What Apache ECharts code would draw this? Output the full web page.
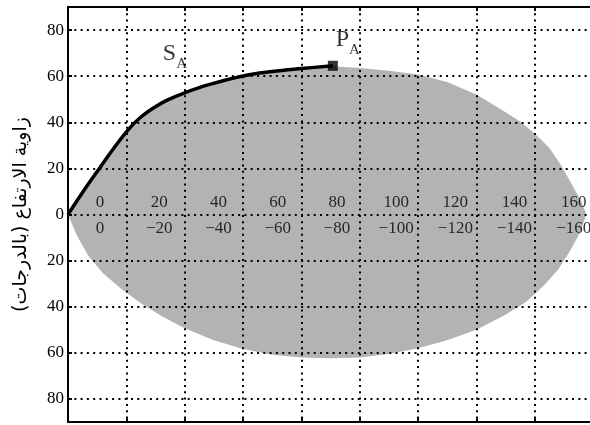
<!DOCTYPE html>
<html>
<head>
<meta charset="utf-8">
<script src="https://cdn.jsdelivr.net/npm/echarts@6.0.0/dist/echarts.min.js"></script>
<style>
  html, body { margin: 0; padding: 0; background: #fff; }
  #chart { width: 590px; height: 425px; }
</style>
</head>
<body>
<div id="chart"></div>
<script>
// Sun path from sunrise (azimuth 0) up to solar noon P_A
const sunPathAz  = [0, 5.5, 11, 16, 21.2, 25, 29, 34, 40, 48, 60, 70, 80, 90.8];
const sunPathAlt = [0, 10.5, 20.4, 29.3, 37.6, 42.3, 46, 49.6, 52.8, 56.2, 60.1, 62, 63.3, 64.5];

// Upper edge of the shaded region after noon
const envTopAz  = [92, 100, 110, 120, 130, 140, 148, 155, 160, 165, 169, 173, 176, 177.7];
const envTopAlt = [64.2, 63.5, 62.4, 60.7, 57.5, 52, 46, 40.3, 35.1, 29, 21.5, 12.5, 5.5, 0];

// Lower edge of the shaded region
const envBottomAz  = [0, 3, 7, 12, 18, 25, 32, 40, 50, 60, 70, 80, 90, 100, 110, 120, 130, 140, 150, 157, 163, 168, 172, 175.5, 177.7];
const envBottomAlt = [0, -9, -18, -25.5, -32, -38.5, -44, -49.3, -54.5, -58.3, -60.8, -62, -62.4, -62, -60.5, -58, -54.5, -50, -43.5, -38, -31, -24, -16, -8, 0];

// Azimuth scale labels written along the horizon line
const azimuthLabels = [0, 20, 40, 60, 80, 100, 120, 140, 160];
const altitudeTicks = [-80, -60, -40, -20, 0, 20, 40, 60, 80];

const noonPoint = [90.8, 64.5];

const serif = '"Liberation Serif", "Times New Roman", serif';

// where each azimuth label sits along the horizon
const labelX = v => v * 1.015 + 11;

// Closed outline of the shaded region
const envelope = [];
sunPathAz.forEach((a, i) => envelope.push([a, sunPathAlt[i]]));
envTopAz.forEach((a, i) => envelope.push([a, envTopAlt[i]]));
for (let i = envBottomAz.length - 1; i >= 0; i--) envelope.push([envBottomAz[i], envBottomAlt[i]]);

const gridDots = { color: '#000', width: 2, type: [2, 4.3] };

const chart = echarts.init(document.getElementById('chart'), null, { renderer: 'canvas' });
chart.setOption({
  animation: false,
  backgroundColor: '#fff',
  grid: { left: 68, top: 7, width: 525, height: 415, containLabel: false, outerBoundsMode: 'none' },
  xAxis: [
    {
      type: 'value', min: 0, max: 180, interval: 20, position: 'bottom', z: 5,
      axisLine: { onZero: false, lineStyle: { color: '#000', width: 2 } },
      axisTick: { inside: true, length: 4, lineStyle: { color: '#000', width: 2 } },
      axisLabel: { show: false },
      splitLine: { show: true, lineStyle: gridDots }
    },
    {
      type: 'value', min: 0, max: 180, interval: 20, position: 'top', z: 5,
      axisLine: { onZero: false, lineStyle: { color: '#000', width: 2 } },
      axisTick: { inside: true, length: 4, lineStyle: { color: '#000', width: 2 } },
      axisLabel: { show: false },
      splitLine: { show: false }
    }
  ],
  yAxis: {
    type: 'value', min: -90, max: 90, z: 5,
    name: 'زاوية الارتفاع (بالدرجات)',
    nameLocation: 'middle',
    nameGap: 37,
    nameTextStyle: { fontFamily: '"DejaVu Sans", sans-serif', fontSize: 19, color: '#000' },
    axisLine: { onZero: false, lineStyle: { color: '#000', width: 2 } },
    axisTick: { show: true, inside: true, length: 4, customValues: altitudeTicks, lineStyle: { color: '#000', width: 2 } },
    axisLabel: {
      customValues: altitudeTicks,
      margin: 4, color: '#000', fontFamily: serif, fontSize: 17,
      formatter: v => String(Math.abs(v))
    },
    splitLine: { show: true, lineStyle: gridDots }
  },
  series: [
    {
      type: 'custom',
      z: 1,
      silent: true,
      data: envelope,
      renderItem: (params, api) => {
        if (params.dataIndex !== 0) return null;
        return {
          type: 'polygon',
          shape: { points: envelope.map(p => api.coord(p)) },
          style: { fill: '#b3b3b3' }
        };
      }
    },
    {
      type: 'line',
      z: 6,
      data: sunPathAz.map((a, i) => [a, sunPathAlt[i]]),
      smooth: 0.4,
      showSymbol: false,
      lineStyle: { color: '#000', width: 3.5 }
    },
    {
      type: 'scatter',
      z: 7,
      symbol: 'rect',
      symbolSize: 10,
      itemStyle: { color: '#000' },
      data: [noonPoint]
    },
    {
      type: 'scatter',
      z: 7,
      symbolSize: 0,
      silent: true,
      data: azimuthLabels.map(v => ({ value: [labelX(v), 0], name: String(v) })),
      label: {
        show: true, position: 'top', distance: 3,
        color: '#000', fontFamily: serif, fontSize: 17,
        formatter: p => p.name
      }
    },
    {
      type: 'scatter',
      z: 7,
      symbolSize: 0,
      silent: true,
      data: azimuthLabels.map(v => ({ value: [labelX(v), 0], name: v === 0 ? '0' : '\u2212' + v })),
      label: {
        show: true, position: 'bottom', distance: 6,
        color: '#000', fontFamily: serif, fontSize: 17,
        formatter: p => p.name
      }
    },
    {
      type: 'scatter',
      z: 7,
      symbolSize: 0,
      silent: true,
      data: [
        { value: [32.5, 70.2], name: 'S' },
        { value: [91.8, 76.3], name: 'P' }
      ],
      label: {
        show: true, position: 'right', distance: 0,
        formatter: p => '{m|' + p.name + '}{s|A}',
        rich: {
          m: { fontFamily: serif, fontSize: 24, color: '#000', verticalAlign: 'bottom', lineHeight: 26 },
          s: { fontFamily: serif, fontSize: 15, color: '#000', verticalAlign: 'bottom', lineHeight: 26, padding: [0, 0, -6, 0] }
        }
      }
    }
  ]
});
</script>
</body>
</html>
